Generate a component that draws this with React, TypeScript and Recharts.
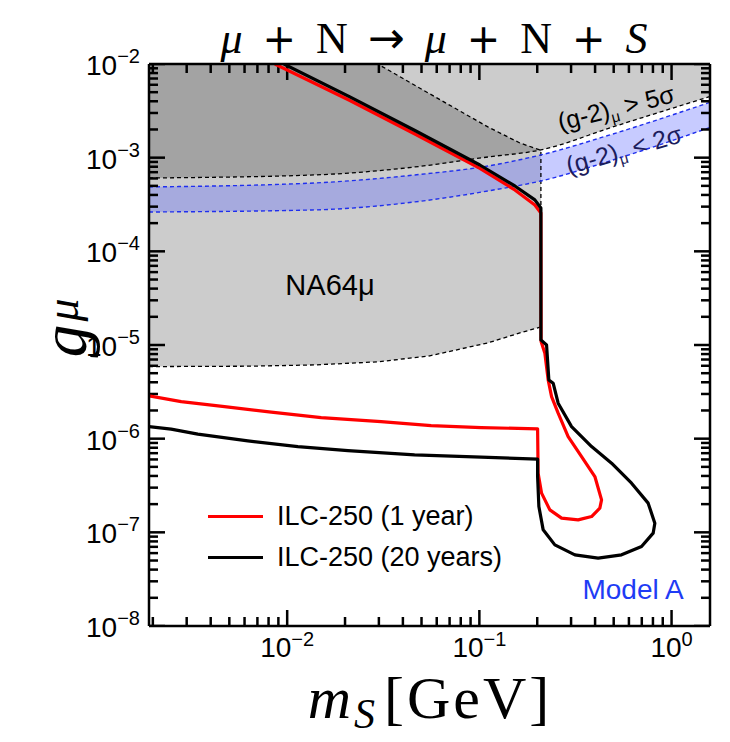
import React from 'react';
import { ComposedChart, Area, Line, XAxis, YAxis, Legend } from 'recharts';

const X_DOMAIN = [0.00191, 1.585];
const Y_DOMAIN = [1e-8, 1e-2];

const xDecades = [0.001, 0.01, 0.1, 1];
const yDecades = [1e-8, 1e-7, 1e-6, 1e-5, 1e-4, 1e-3, 1e-2];
const minorSteps = [2, 3, 4, 5, 6, 7, 8, 9];

// NA64mu excluded region: lower (dashed) edge and upper edge
const na64X = [0.00191, 0.0064, 0.0139, 0.0296, 0.0552, 0.1107, 0.1625, 0.209];
const na64Low = [5.88e-6, 5.94e-6, 6.13e-6, 6.61e-6, 7.66e-6, 1.053e-5, 1.345e-5, 1.56e-5];
const na64High = [1e-2, 1e-2, 1e-2, 1e-2, 4.8e-3, 2.13e-3, 1.435e-3, 1.2e-3];

// (g-2)_mu : > 5 sigma exclusion edge, < 2 sigma band
const g2X = [0.00191, 0.0139, 0.0462, 0.1107, 0.209, 0.495, 1.585];
const g2Excl = [6.07e-4, 6.54e-4, 7.96e-4, 1.017e-3, 1.21e-3, 2.13e-3, 4.5e-3];
const g2Upper = [4.87e-4, 5.37e-4, 6.54e-4, 8.15e-4, 1.07e-3, 1.79e-3, 3.9e-3];
const g2Lower = [2.63e-4, 2.77e-4, 3.37e-4, 4.41e-4, 5.64e-4, 9.45e-4, 2.1e-3];

// ILC-250, 1 year contour
const ilc1X = [0.00863, 0.0212, 0.0462, 0.1006, 0.153, 0.1944, 0.209, 0.2095, 0.2192, 0.228, 0.2375, 0.257, 0.2897, 0.3402, 0.399, 0.4323, 0.4235, 0.3836, 0.3266, 0.2678, 0.2327, 0.2107, 0.2022, 0.2009, 0.1022, 0.0561, 0.0308, 0.01503, 0.00826, 0.00472, 0.00281, 0.00191];
const ilc1G = [1e-2, 4.08e-3, 1.79e-3, 7.67e-4, 4.52e-4, 3.13e-4, 2.57e-4, 1.087e-5, 8.17e-6, 4.24e-6, 2.81e-6, 1.872e-6, 1.053e-6, 6.44e-7, 3.94e-7, 2.22e-7, 1.813e-7, 1.474e-7, 1.36e-7, 1.418e-7, 1.738e-7, 2.62e-7, 4.28e-7, 1.272e-6, 1.313e-6, 1.38e-6, 1.522e-6, 1.68e-6, 1.918e-6, 2.2e-6, 2.49e-6, 2.86e-6];

// ILC-250, 20 years contour
const ilc20X = [0.00961, 0.0212, 0.0462, 0.1006, 0.153, 0.1944, 0.209, 0.209, 0.2237, 0.2299, 0.2421, 0.257, 0.3018, 0.3836, 0.4874, 0.6193, 0.7555, 0.8185, 0.8022, 0.698, 0.5494, 0.415, 0.314, 0.247, 0.2148, 0.204, 0.2009, 0.2009, 0.1022, 0.046, 0.0207, 0.01137, 0.00624, 0.00343, 0.00249, 0.00191];
const ilc20G = [1e-2, 4.45e-3, 1.95e-3, 8.35e-4, 4.99e-4, 3.54e-4, 2.9e-4, 1.133e-5, 1.0e-5, 4.24e-6, 3.91e-6, 2.39e-6, 1.346e-6, 8.23e-7, 5.47e-7, 3.35e-7, 2.05e-7, 1.253e-7, 9.8e-8, 7.05e-8, 5.75e-8, 5.3e-8, 5.75e-8, 7.35e-8, 1.063e-7, 1.885e-7, 3.94e-7, 6.04e-7, 6.34e-7, 6.71e-7, 7.46e-7, 8.23e-7, 9.47e-7, 1.117e-6, 1.263e-6, 1.346e-6];

const series = [
  { name: 'ILC-250 (1 year)', color: '#ff0000', xs: ilc1X, gs: ilc1G },
  { name: 'ILC-250 (20 years)', color: '#000000', xs: ilc20X, gs: ilc20G },
];

const SANS = '"Liberation Sans", Arial, Helvetica, sans-serif';
const SERIF = '"Liberation Serif", "Times New Roman", serif';
const SYM = '"DejaVu Sans", sans-serif';

// chart geometry
const W = 730;
const H = 742;
const MARGIN = { top: 63, right: 19, bottom: 76, left: 89 };
const X_AXIS_H = 40;
const Y_AXIS_W = 60;
const plotW = W - MARGIN.left - Y_AXIS_W - MARGIN.right - 1;
const plotH = H - MARGIN.top - 1 - MARGIN.bottom - X_AXIS_H;
const pxPerDecX = plotW / Math.log10(X_DOMAIN[1] / X_DOMAIN[0]);
const pxPerDecY = plotH / Math.log10(Y_DOMAIN[1] / Y_DOMAIN[0]);

const inDomain = (v: number, d: number[]) => v >= d[0] * 0.999 && v <= d[1] * 1.001;
const makeTicks = (decades: number[], d: number[]) => {
  const out: number[] = [];
  decades.forEach((dec) => {
    out.push(dec);
    minorSteps.forEach((m) => out.push(dec * m));
  });
  return out.filter((v) => inDomain(v, d)).sort((a, b) => a - b);
};
const xTicks = makeTicks(xDecades, X_DOMAIN);
const yTicks = makeTicks(yDecades, Y_DOMAIN);

const na64Rows = na64X.map((x, i) => ({ x, band: [na64Low[i], na64High[i]] }));
const na64Edge = [
  ...na64X.map((x, i) => ({ x, g: na64Low[i] })),
  ...na64X.map((x, i) => ({ x, g: na64High[i] })).filter((p) => p.x >= 0.0296).reverse(),
];
const g2Rows = g2X.map((x, i) => ({
  x,
  excl: [g2Excl[i], 1e-2],
  band: [g2Lower[i], g2Upper[i]],
  lo5: g2Excl[i],
  up2: g2Upper[i],
  lo2: g2Lower[i],
}));

const isMajor = (v: number) => Math.abs(Math.log10(v) - Math.round(Math.log10(v))) < 1e-6;
const expLabel = (v: number) => {
  const e = Math.round(Math.log10(v));
  return e < 0 ? '\u2212' + Math.abs(e) : String(e);
};
const MAJOR = 16;
const MINOR = 9;
const kY = (v: number) => 10 ** ((isMajor(v) ? MAJOR : MINOR) / pxPerDecY);
const kX = (v: number) => 10 ** ((isMajor(v) ? MAJOR : MINOR) / pxPerDecX);

// one short inward segment per tick, along each side of the frame
const bottomMarks = xTicks.map((v) => [{ x: v, g: Y_DOMAIN[0] }, { x: v, g: Y_DOMAIN[0] * kY(v) }]);
const topMarks = xTicks.map((v) => [{ x: v, g: Y_DOMAIN[1] }, { x: v, g: Y_DOMAIN[1] / kY(v) }]);
const leftMarks = yTicks.map((v) => [{ x: X_DOMAIN[0], g: v }, { x: X_DOMAIN[0] * kX(v), g: v }]);
const rightMarks = yTicks.map((v) => [{ x: X_DOMAIN[1], g: v }, { x: X_DOMAIN[1] / kX(v), g: v }]);
const allMarks = [...bottomMarks, ...topMarks, ...leftMarks, ...rightMarks];

const BottomLabel = (p: any) => {
  const v = p.payload.value;
  if (!isMajor(v)) return <g />;
  return (
    <text x={p.x} y={Number(p.y) + 31} textAnchor="middle" fontSize={28} fontFamily={SANS} fill="#000">
      10<tspan dy={-11} fontSize={20}>{expLabel(v)}</tspan>
    </text>
  );
};
const LeftLabel = (p: any) => {
  const v = p.payload.value;
  if (!isMajor(v)) return <g />;
  return (
    <text x={Number(p.x) - 9} y={Number(p.y) + 11} textAnchor="end" fontSize={28} fontFamily={SANS} fill="#000">
      10<tspan dy={-12} fontSize={20}>{expLabel(v)}</tspan>
    </text>
  );
};

const frame = { stroke: '#000', strokeWidth: 2.5 };
const axisCommon = {
  type: 'number' as const,
  scale: 'log' as const,
  allowDataOverflow: true,
  interval: 0 as const,
  tickSize: 0,
  tickMargin: 0,
  tickLine: false,
  axisLine: frame,
};

const LegendBox = () => (
  <div style={{ fontFamily: SANS, fontSize: 27, color: '#000' }}>
    {series.map((s) => (
      <div key={s.name} style={{ display: 'flex', alignItems: 'center', height: 41 }}>
        <div style={{ width: 55, height: 3.5, background: s.color, marginRight: 14 }} />
        <span style={{ whiteSpace: 'nowrap' }}>{s.name}</span>
      </div>
    ))}
  </div>
);

const abs = (left: number, top: number, extra: React.CSSProperties = {}): React.CSSProperties => ({
  position: 'absolute',
  left,
  top,
  transform: 'translate(-50%, -50%)',
  whiteSpace: 'nowrap',
  lineHeight: 1,
  ...extra,
});

export default function App() {
  return (
    <div style={{ position: 'absolute', left: 0, top: 0, width: W, height: H, background: '#fff' }}>
      <ComposedChart width={W} height={H} margin={MARGIN}>
        <XAxis dataKey="x" {...axisCommon} domain={X_DOMAIN} ticks={xTicks} tick={BottomLabel} height={X_AXIS_H} />
        <XAxis xAxisId="top" orientation="top" dataKey="x" {...axisCommon} domain={X_DOMAIN} ticks={[]} tick={false} height={1} />
        <YAxis {...axisCommon} domain={Y_DOMAIN} ticks={yTicks} tick={LeftLabel} width={Y_AXIS_W} />
        <YAxis yAxisId="right" orientation="right" {...axisCommon} domain={Y_DOMAIN} ticks={[]} tick={false} width={1} />

        <Area data={na64Rows} dataKey="band" type="linear" fill="#000" fillOpacity={0.2} stroke="none" isAnimationActive={false} legendType="none" />
        <Area data={g2Rows} dataKey="excl" type="monotone" fill="#000" fillOpacity={0.2} stroke="none" isAnimationActive={false} legendType="none" />
        <Area data={g2Rows} dataKey="band" type="monotone" fill="#6470ff" fillOpacity={0.36} stroke="none" isAnimationActive={false} legendType="none" />

        <Line data={na64Edge} dataKey="g" type="linear" stroke="#000" strokeWidth={1.3} strokeDasharray="4 3" dot={false} isAnimationActive={false} legendType="none" />
        <Line data={g2Rows} dataKey="lo5" type="monotone" stroke="#000" strokeWidth={1.3} strokeDasharray="4 3" dot={false} isAnimationActive={false} legendType="none" />
        <Line data={g2Rows} dataKey="up2" type="monotone" stroke="#1f2fee" strokeWidth={1.4} strokeDasharray="4 3" dot={false} isAnimationActive={false} legendType="none" />
        <Line data={g2Rows} dataKey="lo2" type="monotone" stroke="#1f2fee" strokeWidth={1.4} strokeDasharray="4 3" dot={false} isAnimationActive={false} legendType="none" />

        {allMarks.map((seg, i) => (
          <Line
            key={'tk' + i}
            data={seg}
            dataKey="g"
            type="linear"
            stroke="#000"
            strokeWidth={2.5}
            dot={false}
            activeDot={false}
            isAnimationActive={false}
            legendType="none"
          />
        ))}

        {series.map((s) => (
          <Line
            key={s.name}
            name={s.name}
            data={s.xs.map((x, i) => ({ x, g: s.gs[i] }))}
            dataKey="g"
            type="linear"
            stroke={s.color}
            strokeWidth={3.2}
            strokeLinejoin="round"
            dot={false}
            isAnimationActive={false}
          />
        ))}

        <Legend
          layout="horizontal"
          verticalAlign="middle"
          align="center"
          content={LegendBox}
          wrapperStyle={{ position: 'absolute', left: 208, top: 496, width: 'auto' }}
        />
      </ComposedChart>

      <div style={abs(434, 38, { fontFamily: SERIF, fontSize: 44, wordSpacing: 9 })}>
        <i>μ</i> <span style={{ fontFamily: SYM, fontSize: 40 }}>+</span> N{' '}
        <span style={{ fontFamily: SYM, fontSize: 44 }}>→</span> <i>μ</i>{' '}
        <span style={{ fontFamily: SYM, fontSize: 40 }}>+</span> N <span style={{ fontFamily: SYM, fontSize: 40 }}>+</span>{' '}
        <i>S</i>
      </div>
      <div style={abs(64, 328, { fontFamily: SERIF, fontSize: 66, transform: 'translate(-50%, -50%) rotate(-90deg)' })}>
        <i>g</i>
        <span style={{ fontSize: 46, position: 'relative', top: -8, marginLeft: 3 }}>
          <i>μ</i>
        </span>
      </div>
      <div style={abs(430, 699, { fontFamily: SERIF, fontSize: 60, letterSpacing: 3, lineHeight: 0.5 })}>
        <i>m</i>
        <span style={{ fontSize: 42, position: 'relative', top: 10 }}>
          <i>S</i>
        </span>
        <span style={{ marginLeft: 6 }}>[GeV]</span>
      </div>

      <div style={abs(330, 285, { fontFamily: SANS, fontSize: 29 })}>NA64μ</div>
      <div style={abs(616, 108, { fontFamily: SANS, fontSize: 25, transform: 'translate(-50%, -50%) rotate(-14deg)' })}>
        (g-2)<span style={{ fontSize: 15, position: 'relative', top: 5 }}>μ</span> &gt; 5σ
      </div>
      <div style={abs(624, 150, { fontFamily: SANS, fontSize: 25, color: '#1c1c5c', transform: 'translate(-50%, -50%) rotate(-16deg)' })}>
        (g-2)<span style={{ fontSize: 15, position: 'relative', top: 5 }}>μ</span> &lt; 2σ
      </div>
      <div style={abs(633, 590, { fontFamily: SANS, fontSize: 28, color: '#1f3cf5' })}>Model A</div>
    </div>
  );
}
